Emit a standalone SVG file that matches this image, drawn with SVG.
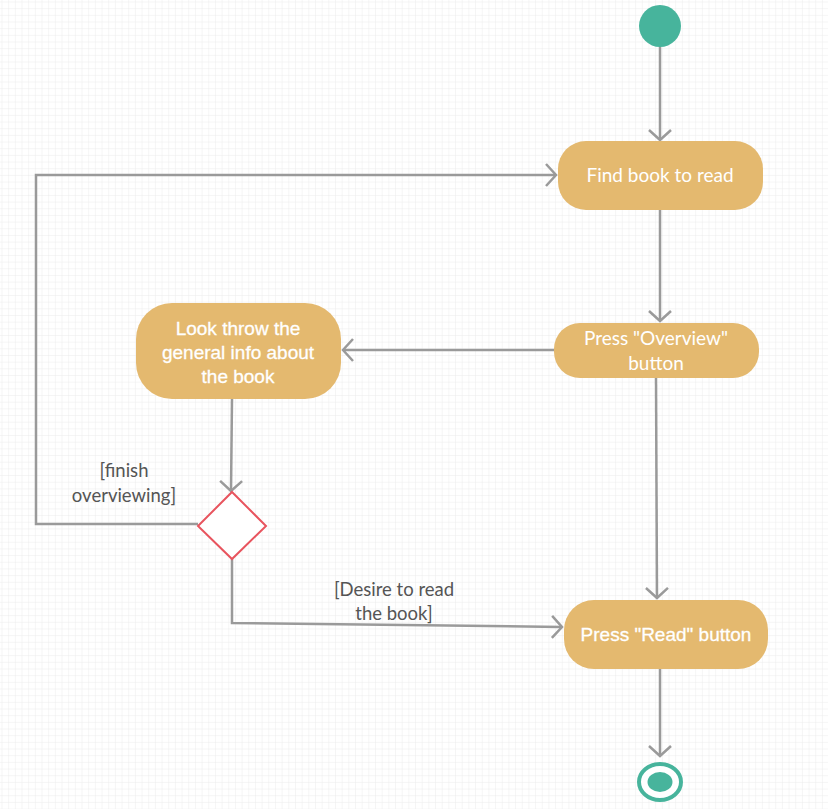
<svg xmlns="http://www.w3.org/2000/svg" width="828" height="809" viewBox="0 0 828 809">
  <defs>
    <pattern id="grid" width="6.67" height="6.67" patternUnits="userSpaceOnUse" x="1.5" y="1.5">
      <path d="M6.67,0 L0,0 L0,6.67" fill="none" stroke="#ebebeb" stroke-width="1"/>
    </pattern>
    <marker id="open" markerUnits="userSpaceOnUse" viewBox="-13 -13 16 26" markerWidth="16" markerHeight="26" refX="0" refY="0" orient="auto">
      <path d="M-10,-11 L0,0 L-10,11" fill="none" stroke="#9a9a9a" stroke-width="2.5"/>
    </marker>
    <style>
      .action { fill: #e4b96f; }
      .flow { fill: none; stroke: #9a9a9a; stroke-width: 2.5; }
      .lato { font-family: Lato, "Liberation Sans", sans-serif; font-size: 19px; fill: #ffffff; text-anchor: middle; }
      .arial { font-family: "Liberation Sans", Arial, sans-serif; font-size: 19px; fill: #ffffff; stroke: #ffffff; stroke-width: 0.3; text-anchor: middle; }
      .guard { font-family: Lato, "Liberation Sans", sans-serif; font-size: 18.5px; fill: #555555; text-anchor: middle; }
    </style>
  </defs>

  <rect width="828" height="809" fill="#ffffff"/>
  <rect width="828" height="809" fill="url(#grid)"/>

  <g id="connectors">
    <path class="flow" d="M660,47 L660,140" marker-end="url(#open)"/>
    <path class="flow" d="M660,210 L660,321" marker-end="url(#open)"/>
    <path class="flow" d="M554,350 L343,350" marker-end="url(#open)"/>
    <path class="flow" d="M232,399 L231,491" marker-end="url(#open)"/>
    <path class="flow" d="M198,524 L36,524 L36,175 L556,175" marker-end="url(#open)"/>
    <path class="flow" d="M232,559 L232,623 L562,627" marker-end="url(#open)"/>
    <path class="flow" d="M656,378 L657,598" marker-end="url(#open)"/>
    <path class="flow" d="M660,669 L660,756" marker-end="url(#open)"/>
  </g>

  <g id="start">
    <circle cx="660" cy="26" r="21" fill="#47b49c"/>
  </g>

  <g id="find-book">
    <rect class="action" x="558" y="141" width="205" height="69" rx="28" ry="28"/>
    <text class="lato" x="660" y="182">Find book to read</text>
  </g>

  <g id="press-overview">
    <rect class="action" x="554" y="323" width="205" height="55" rx="26" ry="26"/>
    <text class="lato" x="656" y="345">Press "Overview"</text>
    <text class="lato" x="656" y="370">button</text>
  </g>

  <g id="look-info">
    <rect class="action" x="136" y="303" width="205" height="96" rx="36" ry="36"/>
    <text class="arial" x="238" y="335">Look throw the</text>
    <text class="arial" x="238" y="359">general info about</text>
    <text class="arial" x="238" y="383">the book</text>
  </g>

  <g id="decision">
    <polygon points="232,492 266,526 232,559 198,526" fill="#ffffff" stroke="#e8545e" stroke-width="2"/>
  </g>

  <g id="guard-finish">
    <text class="guard" x="124" y="477">[finish</text>
    <text class="guard" x="124" y="502">overviewing]</text>
  </g>

  <g id="guard-desire">
    <text class="guard" x="394" y="596">[Desire to read</text>
    <text class="guard" x="394" y="620">the book]</text>
  </g>

  <g id="press-read">
    <rect class="action" x="564" y="600" width="204" height="69" rx="30" ry="30"/>
    <text class="arial" x="666" y="641">Press "Read" button</text>
  </g>

  <g id="end">
    <ellipse cx="660" cy="782" rx="21" ry="18" fill="#ffffff" stroke="#47b49c" stroke-width="4"/>
    <ellipse cx="660" cy="782" rx="12.5" ry="10" fill="#47b49c"/>
  </g>
</svg>
